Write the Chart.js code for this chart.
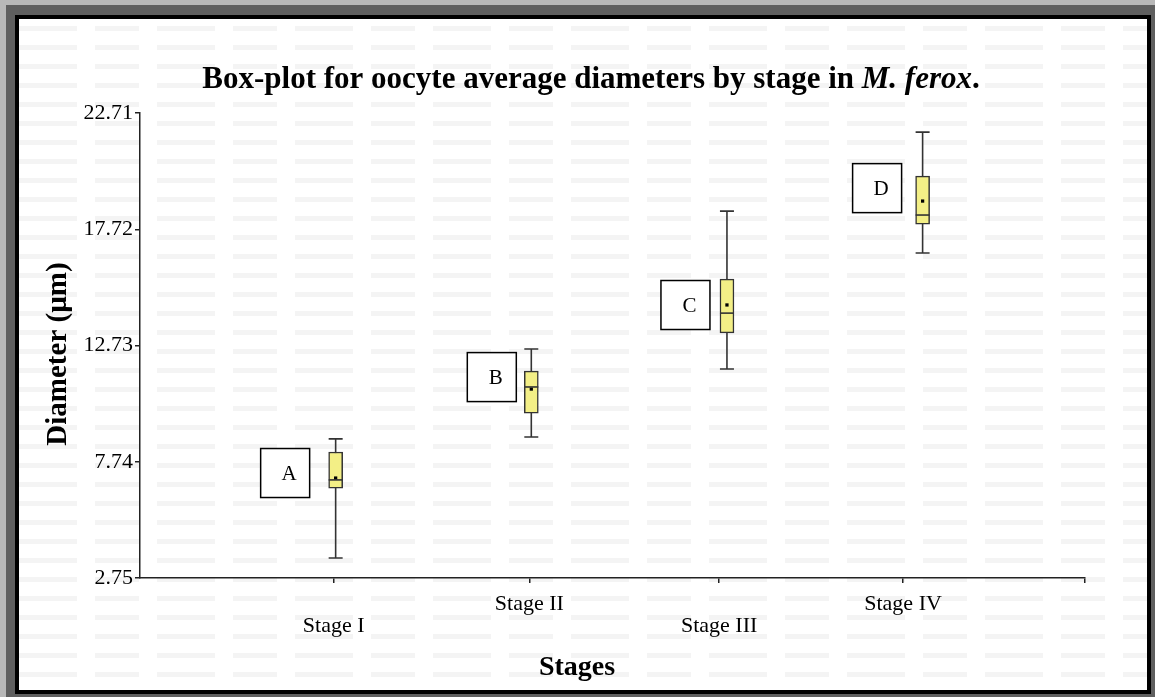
<!DOCTYPE html>
<html>
<head>
<meta charset="utf-8">
<script src="https://cdn.jsdelivr.net/npm/chart.js@4.4.1/dist/chart.umd.min.js"></script>
<style>
  html, body { margin: 0; padding: 0; }
  body { width: 1155px; height: 697px; background: #b8b8b8; position: relative; overflow: hidden; }
  #outer { position: absolute; left: 6px; top: 5px; right: 0; bottom: 0; background: #5f5f5f; }
  #inner {
    position: absolute; left: 15px; top: 15px; width: 1128px; height: 671px;
    border: 4px solid #000;
    background-color: #fff;
    background-image:
      repeating-linear-gradient(90deg, rgba(255,255,255,0) 0 58px, #fff 58px 76px, rgba(255,255,255,0) 76px 120px, #fff 120px 138px),
      repeating-linear-gradient(180deg, #fff 0 7px, #f4f4f4 7px 12px, #fff 12px 19px);
  }
  #wrap { position: absolute; left: 0; top: 0; width: 1128px; height: 671px; }
</style>
</head>
<body>
<div id="outer"></div>
<div id="inner"><div id="wrap"><canvas id="chart"></canvas></div></div>
<script>
const stages = ['Stage I', 'Stage II', 'Stage III', 'Stage IV'];
const stagePos = [1, 2, 3, 4];
// the original axis puts its stage ticks slightly left of the boxes for III and IV
const stageTickPos = [0.99, 1.99, 2.96, 3.90];
const groupLetters = ['A', 'B', 'C', 'D'];
const whiskerLow = [3.61, 8.80, 11.72, 16.70];
const q1Values = [6.61, 9.83, 13.27, 17.94];
const medians = [6.96, 10.95, 14.12, 18.33];
const q3Values = [8.16, 11.63, 15.58, 20.00];
const whiskerHigh = [8.72, 12.58, 18.50, 21.89];
const means = [7.04, 10.86, 14.47, 18.93];
const yTicks = [2.75, 7.74, 12.73, 17.72, 22.71];
const xMax = 4.83;

const SERIF = '"Liberation Serif", "Times New Roman", serif';

const boxPlotExtras = {
    id: 'boxPlotExtras',
    beforeDatasetsDraw(chart) {
        const ctx = chart.ctx;
        const x = chart.scales.x, y = chart.scales.y;
        ctx.save();
        ctx.strokeStyle = '#333';
        ctx.lineWidth = 1.6;
        stagePos.forEach((p, i) => {
            const cx = x.getPixelForValue(p);
            const lo = y.getPixelForValue(whiskerLow[i]);
            const hi = y.getPixelForValue(whiskerHigh[i]);
            ctx.beginPath();
            ctx.moveTo(cx, lo); ctx.lineTo(cx, hi);
            ctx.moveTo(cx - 7, lo); ctx.lineTo(cx + 7, lo);
            ctx.moveTo(cx - 7, hi); ctx.lineTo(cx + 7, hi);
            ctx.stroke();
        });
        ctx.restore();
    },
    afterDatasetsDraw(chart, args, opts) {
        const ctx = chart.ctx;
        const x = chart.scales.x, y = chart.scales.y;
        ctx.save();
        // medians
        ctx.strokeStyle = '#333';
        ctx.lineWidth = 1.6;
        stagePos.forEach((p, i) => {
            const cx = x.getPixelForValue(p);
            const m = y.getPixelForValue(medians[i]);
            ctx.beginPath();
            ctx.moveTo(cx - 7, m); ctx.lineTo(cx + 7, m);
            ctx.stroke();
        });
        // group letter boxes
        ctx.lineWidth = 1.5;
        ctx.strokeStyle = '#000';
        ctx.font = '21px ' + SERIF;
        ctx.textAlign = 'center';
        ctx.textBaseline = 'middle';
        stagePos.forEach((p, i) => {
            const cx = x.getPixelForValue(p);
            const mid = (y.getPixelForValue(q1Values[i]) + y.getPixelForValue(q3Values[i])) / 2;
            const off = opts.letterOffsets[i];
            const right = cx + off[0];
            const cy = mid + off[1];
            const s = 49;
            ctx.fillStyle = '#fff';
            ctx.fillRect(right - s, cy - s / 2, s, s);
            ctx.strokeRect(right - s, cy - s / 2, s, s);
            ctx.fillStyle = '#000';
            ctx.fillText(groupLetters[i], right - s / 2 + 4, cy + 1);
        });
        ctx.restore();
    },
    afterDraw(chart) {
        const ctx = chart.ctx;
        ctx.save();
        ctx.fillStyle = '#000';
        // title with italic species name
        const parts = [
            { t: 'Box-plot for oocyte average diameters by stage in ', f: 'bold 31px ' + SERIF },
            { t: 'M. ferox', f: 'italic bold 31px ' + SERIF },
            { t: '.', f: 'bold 31px ' + SERIF }
        ];
        let total = 0;
        parts.forEach(pt => { ctx.font = pt.f; total += ctx.measureText(pt.t).width; });
        let tx = 572 - total / 2;
        ctx.textBaseline = 'alphabetic';
        ctx.textAlign = 'left';
        parts.forEach(pt => {
            ctx.font = pt.f;
            ctx.fillText(pt.t, tx, 69);
            tx += ctx.measureText(pt.t).width;
        });
        // x axis title
        ctx.font = 'bold 28px ' + SERIF;
        ctx.textAlign = 'center';
        ctx.textBaseline = 'middle';
        ctx.fillText('Stages', 558, 649);
        // y axis title
        ctx.translate(40, 335);
        ctx.rotate(-Math.PI / 2);
        ctx.font = 'bold 29px ' + SERIF;
        ctx.fillText('Diameter (\u00b5m)', 0, 0);
        ctx.restore();
    }
};

new Chart(document.getElementById('chart'), {
    type: 'bar',
    data: {
        datasets: [{
            type: 'scatter',
            label: 'Mean',
            data: stagePos.map((p, i) => ({ x: p, y: means[i] })),
            pointStyle: 'rect',
            pointRadius: 2.3,
            backgroundColor: '#000',
            borderColor: '#000',
            borderWidth: 0,
            order: 1
        }, {
            label: 'Interquartile range',
            data: stagePos.map((p, i) => ({ x: p, y: [q1Values[i], q3Values[i]] })),
            backgroundColor: '#f3ef86',
            borderColor: '#333',
            borderWidth: 1.5,
            borderSkipped: false,
            barThickness: 14,
            order: 2
        }]
    },
    options: {
        responsive: true,
        maintainAspectRatio: false,
        animation: false,
        events: [],
        layout: { padding: { top: 94, right: 62, left: 0, bottom: 0 } },
        plugins: {
            legend: { display: false },
            tooltip: { enabled: false },
            boxPlotExtras: {
                letterOffsets: [[-26, 3], [-15, -15], [-17, -1], [-21, -12]]
            }
        },
        scales: {
            x: {
                type: 'linear',
                offset: false,
                min: 0,
                max: xMax,
                afterBuildTicks: (scale) => {
                    scale.ticks = stageTickPos.concat([xMax]).map(v => ({ value: v }));
                },
                afterFit: (scale) => { scale.height = 112; },
                grid: { display: true, offset: false, drawOnChartArea: false, drawTicks: true, tickLength: 5, color: '#222', lineWidth: 1.5 },
                border: { display: true, color: '#222', width: 1.5 },
                ticks: {
                    autoSkip: false,
                    maxRotation: 0,
                    padding: 10,
                    color: '#000',
                    font: { family: SERIF, size: 22, lineHeight: 1.0 },
                    callback: (value, index) => {
                        if (index >= stages.length) return '';
                        return index % 2 === 0 ? ['', stages[index]] : [stages[index]];
                    }
                }
            },
            y: {
                type: 'linear',
                min: yTicks[0],
                max: yTicks[yTicks.length - 1],
                afterBuildTicks: (scale) => {
                    scale.ticks = yTicks.map(v => ({ value: v }));
                },
                afterFit: (scale) => { scale.width = 121; },
                grid: { display: true, drawOnChartArea: false, drawTicks: true, tickLength: 5, color: '#222', lineWidth: 1.5 },
                border: { display: true, color: '#222', width: 1.5 },
                ticks: {
                    padding: 2,
                    color: '#000',
                    font: { family: SERIF, size: 22 },
                    callback: (value) => Number(value).toFixed(2)
                }
            }
        }
    },
    plugins: [boxPlotExtras]
});
</script>
</body>
</html>
